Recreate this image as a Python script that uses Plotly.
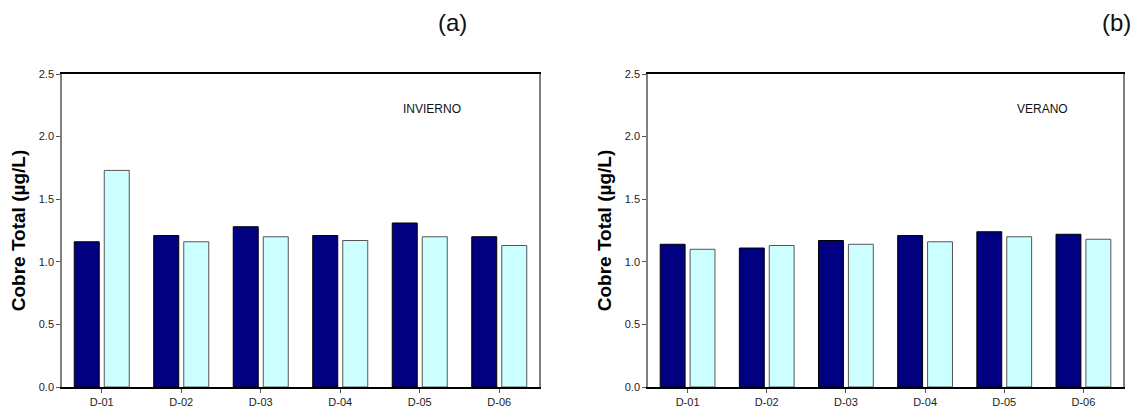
import plotly.graph_objects as go
from plotly.subplots import make_subplots

categories = ["D-01", "D-02", "D-03", "D-04", "D-05", "D-06"]
invierno_s1 = [1.16, 1.21, 1.28, 1.21, 1.31, 1.20]
invierno_s2 = [1.73, 1.16, 1.20, 1.17, 1.20, 1.13]
verano_s1 = [1.14, 1.11, 1.17, 1.21, 1.24, 1.22]
verano_s2 = [1.10, 1.13, 1.14, 1.16, 1.20, 1.18]
y_ticks = [0.0, 0.5, 1.0, 1.5, 2.0, 2.5]
y_tick_text = ["0.0", "0.5", "1.0", "1.5", "2.0", "2.5"]

# page body has an 8px default margin; figure sized to fit the window
OFF = 8
W, H = 1139 - OFF, 408 - OFF
FONT = "Liberation Sans, Arial, sans-serif"
DARK = "#000080"
LIGHT = "#CCFFFF"

fig = make_subplots(rows=1, cols=2)

panels = [(invierno_s1, invierno_s2, 1), (verano_s1, verano_s2, 2)]
for s1, s2, col in panels:
    fig.add_trace(go.Bar(x=categories, y=s1, name="Serie 1",
                         marker=dict(color=DARK, line=dict(color="#000000", width=1)),
                         showlegend=False), row=1, col=col)
    fig.add_trace(go.Bar(x=categories, y=s2, name="Serie 2",
                         marker=dict(color=LIGHT, line=dict(color="#555555", width=1)),
                         showlegend=False), row=1, col=col)

def px_x(p):
    return (p - OFF) / W

def px_y(p):
    return 1 - (p - OFF) / H

ydom = [px_y(387), px_y(74)]
fig.update_layout(
    template="none",
    width=W, height=H,
    margin=dict(l=0, r=0, t=0, b=0, autoexpand=False),
    paper_bgcolor="white", plot_bgcolor="white",
    barmode="group", bargap=0.245, bargroupgap=0.167,
    font=dict(family=FONT, color="#222222"),
    xaxis=dict(domain=[px_x(62), px_x(539)]),
    xaxis2=dict(domain=[px_x(648), px_x(1123)]),
    yaxis=dict(domain=ydom),
    yaxis2=dict(domain=ydom),
)

for c in (1, 2):
    fig.update_xaxes(row=1, col=c, automargin=False, showline=True, linecolor="#000000",
                     linewidth=1.5, mirror=True, ticks="outside", ticklen=4,
                     tickcolor="#555555",
                     tickfont=dict(size=11, family=FONT, color="#222222"),
                     showgrid=False, zeroline=False)
    fig.update_yaxes(row=1, col=c, automargin=False, range=[0, 2.5], tickvals=y_ticks,
                     ticktext=y_tick_text,
                     showline=True, linecolor="#808080", linewidth=1.5, mirror=True,
                     ticks="outside", ticklen=4, tickcolor="#555555",
                     tickfont=dict(size=11, family=FONT, color="#222222"),
                     showgrid=False, zeroline=False,
                     title=dict(text="<b>Cobre Total (µg/L)</b>",
                                font=dict(size=19, family=FONT, color="#000000"),
                                standoff=8))

annots = [
    dict(text="INVIERNO", x=px_x(432), y=px_y(109), size=12),
    dict(text="VERANO", x=px_x(1042), y=px_y(109), size=12),
    dict(text="(a)", x=px_x(452), y=px_y(22), size=24),
    dict(text="(b)", x=px_x(1116), y=px_y(22), size=24),
]
for a in annots:
    fig.add_annotation(text=a["text"], x=a["x"], y=a["y"], xref="paper", yref="paper",
                       xanchor="center", yanchor="middle", showarrow=False,
                       font=dict(size=a["size"], family=FONT, color="#111111"))

fig.write_html("out.html")
